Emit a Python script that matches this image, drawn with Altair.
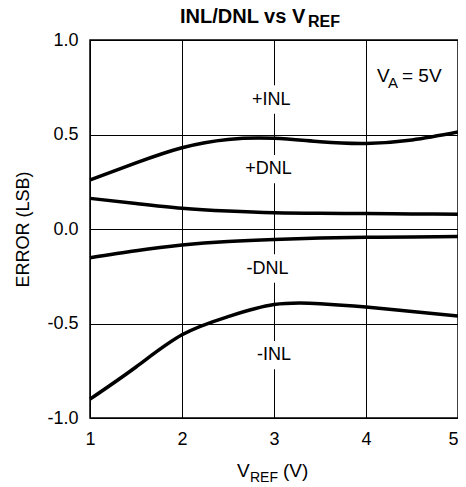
import altair as alt
import pandas as pd

# ---- data ----
vref = [1.0, 1.5, 2.0, 2.5, 3.0, 3.5, 4.0, 4.5, 5.0]
inl_pos = [0.26, 0.35, 0.43, 0.474, 0.480, 0.462, 0.453, 0.471, 0.513]
dnl_pos = [0.162, 0.135, 0.11, 0.095, 0.086, 0.083, 0.082, 0.080, 0.078]
dnl_neg = [-0.152, -0.115, -0.085, -0.066, -0.055, -0.048, -0.044, -0.042, -0.040]
inl_neg = [-0.90, -0.73, -0.56, -0.464, -0.400, -0.395, -0.413, -0.437, -0.46]

series_names = ["+INL", "+DNL", "-DNL", "-INL"]
series_vals = [inl_pos, dnl_pos, dnl_neg, inl_neg]

label_text = ["+INL", "+DNL", "-DNL", "-INL"]
label_x = [2.97, 2.94, 2.93, 3.0]
label_y = [0.685, 0.317, -0.209, -0.667]

x_ticks = [1, 2, 3, 4, 5]
y_ticks = [-1.0, -0.5, 0.0, 0.5, 1.0]

FONT = "Liberation Sans"

rows = []
for name, vals in zip(series_names, series_vals):
    for xv, yv in zip(vref, vals):
        rows.append({"series": name, "vref": xv, "err": yv})
df = pd.DataFrame(rows)
labels = pd.DataFrame({"text": label_text, "x": label_x, "y": label_y})

xscale = alt.Scale(domain=[1, 5], nice=False)
yscale = alt.Scale(domain=[-1, 1], nice=False)

lines = alt.Chart(df).mark_line(color="black", strokeWidth=3.5, interpolate="natural").encode(
    x=alt.X("vref:Q", scale=xscale,
            axis=alt.Axis(values=x_ticks, format="d", title=None, grid=True,
                          labelPadding=12, labelFlush=False,
                          labelAlign={"expr": "datum.value == 5 ? 'right' : 'center'"})),
    y=alt.Y("err:Q", scale=yscale,
            axis=alt.Axis(values=y_ticks, title="ERROR (LSB)", grid=True,
                          labelExpr="replace(format(datum.value, '.1f'), '\u2212', '-')",
                          labelPadding=12, titlePadding=14, labelFlush=False)),
    detail="series:N",
)

bg = alt.Chart(labels).transform_calculate(
    x1="datum.x - 0.28", x2="datum.x + 0.28",
    y1="datum.y - 0.075", y2="datum.y + 0.075",
).mark_rect(color="white").encode(
    x=alt.X("x1:Q", scale=xscale), x2="x2:Q",
    y=alt.Y("y1:Q", scale=yscale), y2="y2:Q",
)

txt = alt.Chart(labels).mark_text(font=FONT, fontSize=18, color="black",
                                  align="center", baseline="middle").encode(
    x=alt.X("x:Q", scale=xscale),
    y=alt.Y("y:Q", scale=yscale),
    text="text:N",
)

def ann(text, x, y, size, bold=False, align="left"):
    return alt.Chart(pd.DataFrame({"t": [text]})).mark_text(
        font=FONT, fontSize=size, fontWeight="bold" if bold else "normal",
        color="black", align=align, baseline="alphabetic",
    ).encode(text="t:N", x=alt.value(x), y=alt.value(y))

annotations = [
    ann("INL/DNL vs V", 90, -17, 20, bold=True),
    ann("REF", 218, -13, 16, bold=True),
    ann("V", 147, 437, 19),
    ann("REF", 160, 442, 14),
    ann("(V)", 193, 437, 19),
    ann("V", 287, 42, 19),
    ann("A", 298, 48, 15),
    ann("= 5V", 312, 42, 19),
]

chart = alt.layer(bg, lines, txt, *annotations).properties(
    width=368, height=378,
    autosize=alt.AutoSizeParams(type="none"),
    padding={"left": 82, "top": 32, "right": 0, "bottom": 65},
    background="white",
).configure_view(
    stroke="black", strokeWidth=1.5, fill="white",
).configure_axis(
    domain=False, ticks=False, gridColor="black", gridWidth=1, gridOpacity=1,
    labelFont=FONT, labelFontSize=18, labelColor="black",
    titleFont=FONT, titleFontSize=18, titleColor="black", titleFontWeight="normal",
)

chart.save("out.html", embed_options={"renderer": "svg", "actions": False})
